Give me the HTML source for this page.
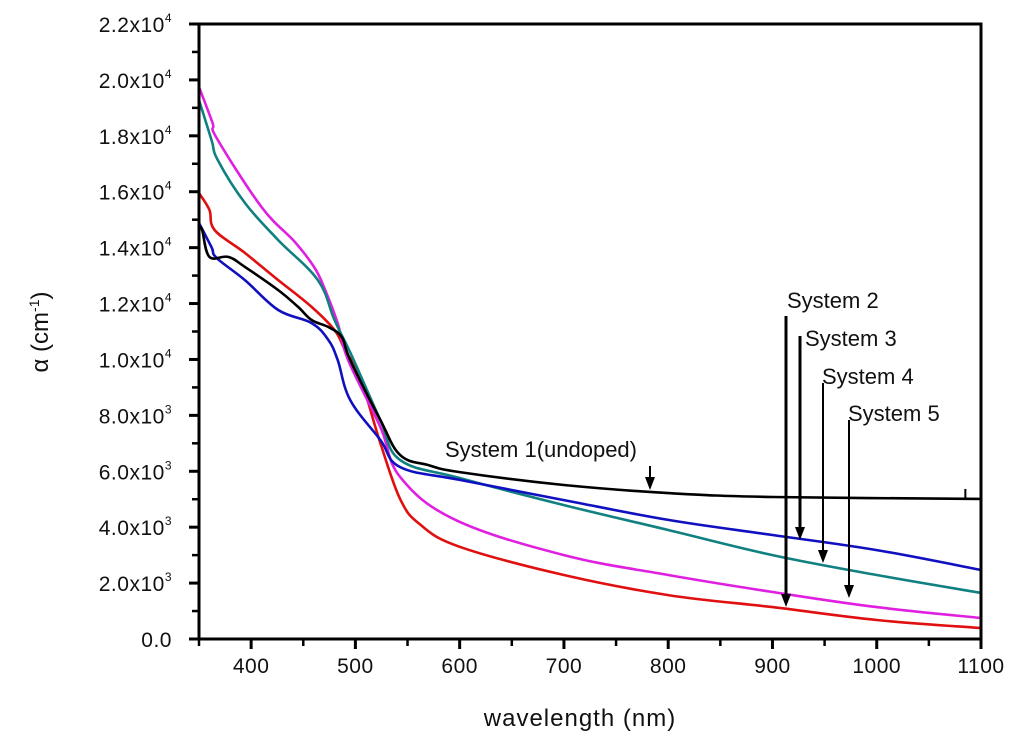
<!DOCTYPE html>
<html><head><meta charset="utf-8">
<style>
html,body{margin:0;padding:0;background:#fff;}
svg{display:block;font-family:"Liberation Sans",sans-serif;}
</style></head>
<body>
<svg id="chart" width="1024" height="754" viewBox="0 0 1024 754"></svg>
<script>
const wlBlack=[350,353,360,378,394,426,445,458,474,487,495,524,543,570,600,700,800,900,1100];
const valBlack=[14.70,14.63,13.67,13.67,13.31,12.48,11.88,11.41,11.16,10.80,9.98,7.83,6.58,6.22,5.97,5.51,5.22,5.08,5.01];
const wlRed=[350,360,365,394,426,458,480,490,505,524,543,562,600,700,800,900,1000,1100];
const valRed=[15.95,15.35,14.63,13.81,12.84,11.88,11.05,10.34,9.30,7.00,5.00,4.10,3.30,2.29,1.57,1.14,0.68,0.39];
const wlMagenta=[350,363,367,410,442,461,471,483,493,524,543,596,700,800,900,1000,1100];
const valMagenta=[19.75,18.46,17.92,15.45,14.20,13.27,12.48,11.30,9.98,7.58,5.79,4.26,3.00,2.29,1.68,1.14,0.75];
const wlTeal=[350,362,368,394,426,464,480,497,524,543,600,700,800,900,1000,1100];
const valTeal=[19.28,17.85,17.13,15.60,14.27,12.84,11.41,10.09,7.83,6.40,5.76,4.79,3.90,3.00,2.29,1.65];
const wlBlue=[350,362,367,394,426,458,474,483,495,524,543,600,700,800,900,1000,1100];
const valBlue=[14.88,14.02,13.63,12.84,11.77,11.30,10.70,9.98,8.55,7.12,6.15,5.69,4.97,4.26,3.72,3.18,2.47];
const xTicks=[400,500,600,700,800,900,1000,1100];
const yTickMant=["0.0","2.0x10","4.0x10","6.0x10","8.0x10","1.0x10","1.2x10","1.4x10","1.6x10","1.8x10","2.0x10","2.2x10"];
const yTickExp=["","3","3","3","3","4","4","4","4","4","4","4"];

const NS="http://www.w3.org/2000/svg";
const svg=document.getElementById('chart');
const X0=199,X1=981,Y0=639,Y1=24;
function xs(w){return X0+(w-350)/(1100-350)*(X1-X0);}
function ys(v){return Y0-v/22*(Y0-Y1);}
function mk(t,a,p){const e=document.createElementNS(NS,t);for(const k in a)e.setAttribute(k,a[k]);(p||svg).appendChild(e);return e;}
function smooth(P){
  let d='M'+P[0][0].toFixed(1)+','+P[0][1].toFixed(1);
  const t=0.18;
  for(let i=0;i<P.length-1;i++){
    const p0=P[Math.max(0,i-1)],p1=P[i],p2=P[i+1],p3=P[Math.min(P.length-1,i+2)];
    const c1=[p1[0]+(p2[0]-p0[0])*t,p1[1]+(p2[1]-p0[1])*t];
    const c2=[p2[0]-(p3[0]-p1[0])*t,p2[1]-(p3[1]-p1[1])*t];
    d+=' C'+c1.map(v=>v.toFixed(1)).join(',')+' '+c2.map(v=>v.toFixed(1)).join(',')+' '+p2[0].toFixed(1)+','+p2[1].toFixed(1);
  }
  return d;
}

const series=[[wlRed,valRed,'#e01010','series-system-2'],[wlMagenta,valMagenta,'#e020e0','series-system-5'],[wlTeal,valTeal,'#108080','series-system-4'],[wlBlue,valBlue,'#1010c0','series-system-3'],[wlBlack,valBlack,'#000','series-system-1']];
series.forEach(s=>{
  const P=s[0].map((w,i)=>[xs(w),ys(s[1][i])]);
  const pl=mk('path',{d:smooth(P),fill:'none',stroke:s[2],'stroke-width':2.6,'stroke-linejoin':'round'});
  
  
});
const sp=mk('line',{x1:xs(1085),x2:xs(1085),y1:ys(5.01)-10,y2:ys(5.01),stroke:'#000','stroke-width':2});



const fr=mk('rect',{x:X0,y:Y1,width:X1-X0,height:Y0-Y1,fill:'none',stroke:'#000','stroke-width':3});



for(let w=350;w<=1100;w+=50){
  const major=w%100===0;
  const t=mk('line',{x1:xs(w),x2:xs(w),y1:Y0,y2:Y0+(major?10:7),stroke:'#000','stroke-width':major?3:2.5});
  
  
}
xTicks.forEach(w=>{
  const t=mk('text',{x:xs(w),y:673,'text-anchor':'middle','font-size':21,fill:'#111','letter-spacing':'0.5'});
  t.textContent=w;
  
  
});
for(let v=0;v<=22;v+=1){
  const major=v%2===0;
  const t=mk('line',{x1:X0-(major?10:7),x2:X0,y1:ys(v),y2:ys(v),stroke:'#000','stroke-width':major?3:2.5});
  
  
}
yTickMant.forEach((m,i)=>{
  const t=mk('text',{x:172,y:ys(i*2)+8,'text-anchor':'end','font-size':21,fill:'#111','letter-spacing':'0.5'});
  t.textContent=m;
  if(yTickExp[i]){const s=mk('tspan',{dy:-10,'font-size':12},t);s.textContent=yTickExp[i];}
  
  
});

const xt=mk('text',{x:580,y:726,'text-anchor':'middle','font-size':24,fill:'#111','letter-spacing':'1'});
xt.textContent='wavelength (nm)';


const yt=mk('text',{x:0,y:0,'text-anchor':'middle','font-size':24,fill:'#111',transform:'translate(48,332) rotate(-90)'});
yt.textContent='α (cm';
const st=mk('tspan',{dy:-9,'font-size':14},yt);st.textContent='-1';
const st2=mk('tspan',{dy:9},yt);st2.textContent=')';



const labels=[['System 1(undoped)',445,457,650,466,490,2,'annotation-system-1'],
['System 2',787,308,786,316,607,3,'annotation-system-2'],
['System 3',805,346,800,336,540,3,'annotation-system-3'],
['System 4',822,384,823,383,563,2,'annotation-system-4'],
['System 5',848,421,849,420,598,2,'annotation-system-5']];
labels.forEach(l=>{
  const t=mk('text',{x:l[1],y:l[2],'font-size':22,fill:'#111'});
  t.textContent=l[0];
  
  
  const ln=mk('line',{x1:l[3],x2:l[3],y1:l[4],y2:l[5]-10,stroke:'#000','stroke-width':l[6]});
  
  
  const h=mk('polygon',{points:`${l[3]-5},${l[5]-13} ${l[3]+5},${l[5]-13} ${l[3]},${l[5]}`,fill:'#000'});
  
  
});
</script>
</body></html>
